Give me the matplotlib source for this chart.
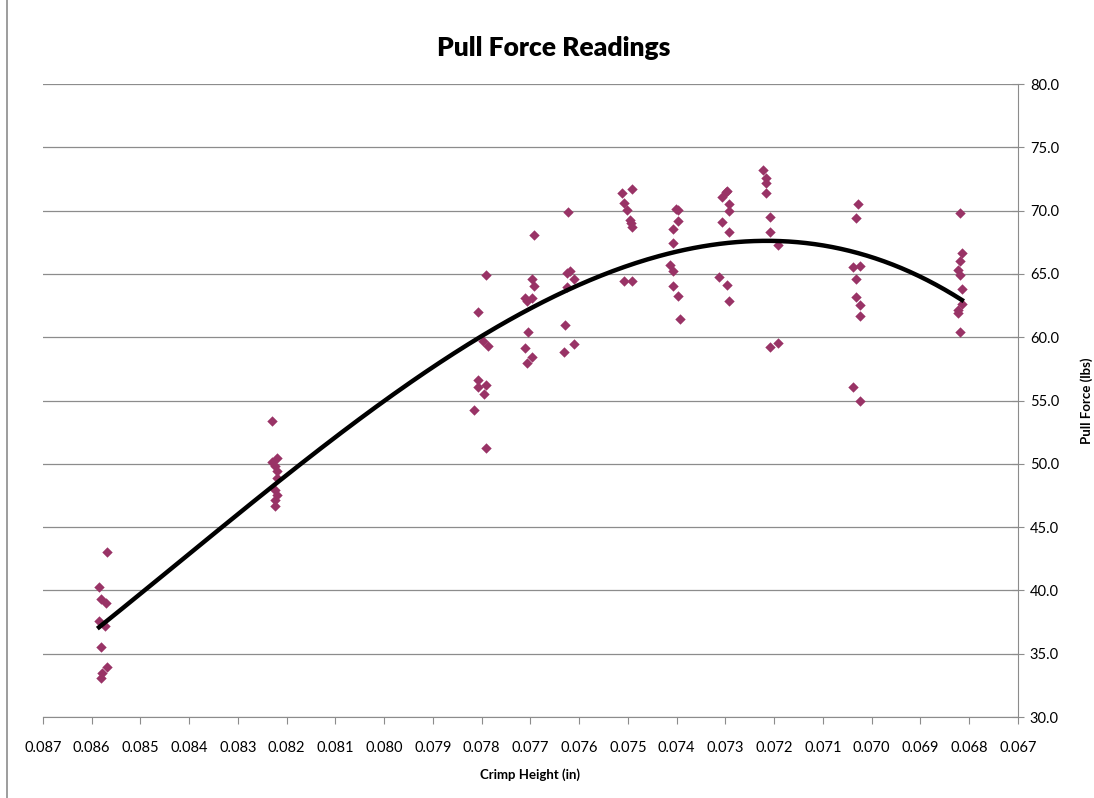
import matplotlib.pyplot as plt
import numpy as np
from matplotlib.lines import Line2D

plt.rcParams['font.family'] = ['Lato', 'DejaVu Sans']

# crimp height (in) and pull force (lbs), read per cluster off the chart
crimp = [0.08569, 0.08585, 0.08580, 0.08571, 0.08585, 0.08572, 0.08580, 0.08569, 0.08578, 0.08580,
         0.08230, 0.08220, 0.08230, 0.08225, 0.08221, 0.08220, 0.08225, 0.08220, 0.08225, 0.08225,
         0.07791, 0.07808, 0.07797, 0.07787, 0.07808, 0.07808, 0.07791, 0.07795, 0.07816, 0.07791,
         0.07693, 0.07697, 0.07693, 0.07711, 0.07707, 0.07697, 0.07705, 0.07711, 0.07697, 0.07707,
         0.07623, 0.07619, 0.07625, 0.07611, 0.07625, 0.07629, 0.07611, 0.07631,
         0.07492, 0.07512, 0.07508, 0.07502, 0.07496, 0.07494, 0.07492, 0.07508, 0.07492,
         0.07402, 0.07397, 0.07397, 0.07408, 0.07408, 0.07414, 0.07408, 0.07408, 0.07397, 0.07393,
         0.07297, 0.07299, 0.07307, 0.07293, 0.07293, 0.07307, 0.07293, 0.07313, 0.07297, 0.07293,
         0.07223, 0.07217, 0.07217, 0.07217, 0.07209, 0.07209, 0.07192, 0.07209, 0.07192,
         0.07029, 0.07033, 0.07039, 0.07025, 0.07033, 0.07033, 0.07025, 0.07025, 0.07039, 0.07025,
         0.06819, 0.06815, 0.06819, 0.06823, 0.06819, 0.06815, 0.06815, 0.06823, 0.06823, 0.06819]
force = [43.06, 40.29, 39.30, 38.98, 37.58, 37.19, 35.50, 33.93, 33.50, 33.06,
         53.38, 50.43, 50.17, 49.83, 49.46, 48.90, 47.93, 47.54, 47.14, 46.67,
         64.91, 61.97, 59.72, 59.33, 56.62, 56.09, 56.22, 55.49, 54.25, 51.22,
         68.07, 64.60, 64.07, 63.12, 62.86, 63.12, 60.44, 59.17, 58.46, 57.99,
         69.87, 65.25, 65.10, 64.60, 63.94, 60.96, 59.46, 58.86,
         71.68, 71.41, 70.62, 70.05, 69.26, 69.05, 68.73, 64.44, 64.44,
         70.13, 70.05, 69.18, 68.52, 67.42, 65.70, 65.23, 64.04, 63.25, 61.44,
         71.57, 71.44, 71.10, 70.50, 70.00, 69.08, 68.33, 64.73, 64.12, 62.88,
         73.20, 72.60, 72.20, 71.37, 69.47, 68.33, 67.28, 59.25, 59.52,
         70.52, 69.44, 65.52, 65.65, 64.57, 63.15, 62.54, 61.67, 56.09, 54.96,
         69.79, 66.67, 66.02, 65.31, 64.91, 63.78, 62.62, 62.15, 61.89, 60.43]

x_ticks = np.arange(0.067, 0.0875, 0.001)
y_ticks = np.arange(30, 81, 5)

fig = plt.figure(figsize=(10.94, 7.98), dpi=100)
ax = fig.add_axes([0.0393, 0.1015, 0.8912, 0.7932])

ax.scatter(crimp, force, marker='D', s=28, color='#993366', linewidths=0, zorder=3)

# polynomial trendline (order 3)
coef = np.polyfit(crimp, force, 3)
xs = np.linspace(min(crimp), max(crimp), 300)
ax.plot(xs, np.polyval(coef, xs), color='black', lw=3.2, zorder=4)

ax.set_xlim(0.087, 0.067)
ax.set_ylim(30, 80)
ax.set_xticks(x_ticks)
ax.set_xticklabels(['%.3f' % v for v in x_ticks])
ax.set_yticks(y_ticks)
ax.set_yticklabels(['%.1f' % v for v in y_ticks])
ax.yaxis.tick_right()
ax.yaxis.set_label_position('right')
ax.grid(axis='y', color='#8c8c8c', lw=0.9)
ax.set_axisbelow(True)

for s in ['top', 'left']:
    ax.spines[s].set_visible(False)
for s in ['bottom', 'right']:
    ax.spines[s].set_color('#8c8c8c')
ax.tick_params(axis='x', direction='out', length=5, color='#8c8c8c', labelsize=10.5, pad=12)
ax.tick_params(axis='y', direction='inout', length=9, color='#8c8c8c', labelsize=10.5, pad=4)

ax.set_title('Pull Force Readings', fontsize=19, fontweight='heavy', pad=20, x=0.524)
ax.set_xlabel('Crimp Height (in)', fontsize=9.5, fontweight='bold', labelpad=10)
ax.set_ylabel('Pull Force (lbs)', fontsize=9.5, fontweight='bold', va='center')
ax.yaxis.set_label_coords(1.0705, 0.5)

fig.add_artist(Line2D([0.0064, 0.0064], [0, 1], color='#8c8c8c', lw=1.2))

fig.savefig('out.png', dpi=100)
